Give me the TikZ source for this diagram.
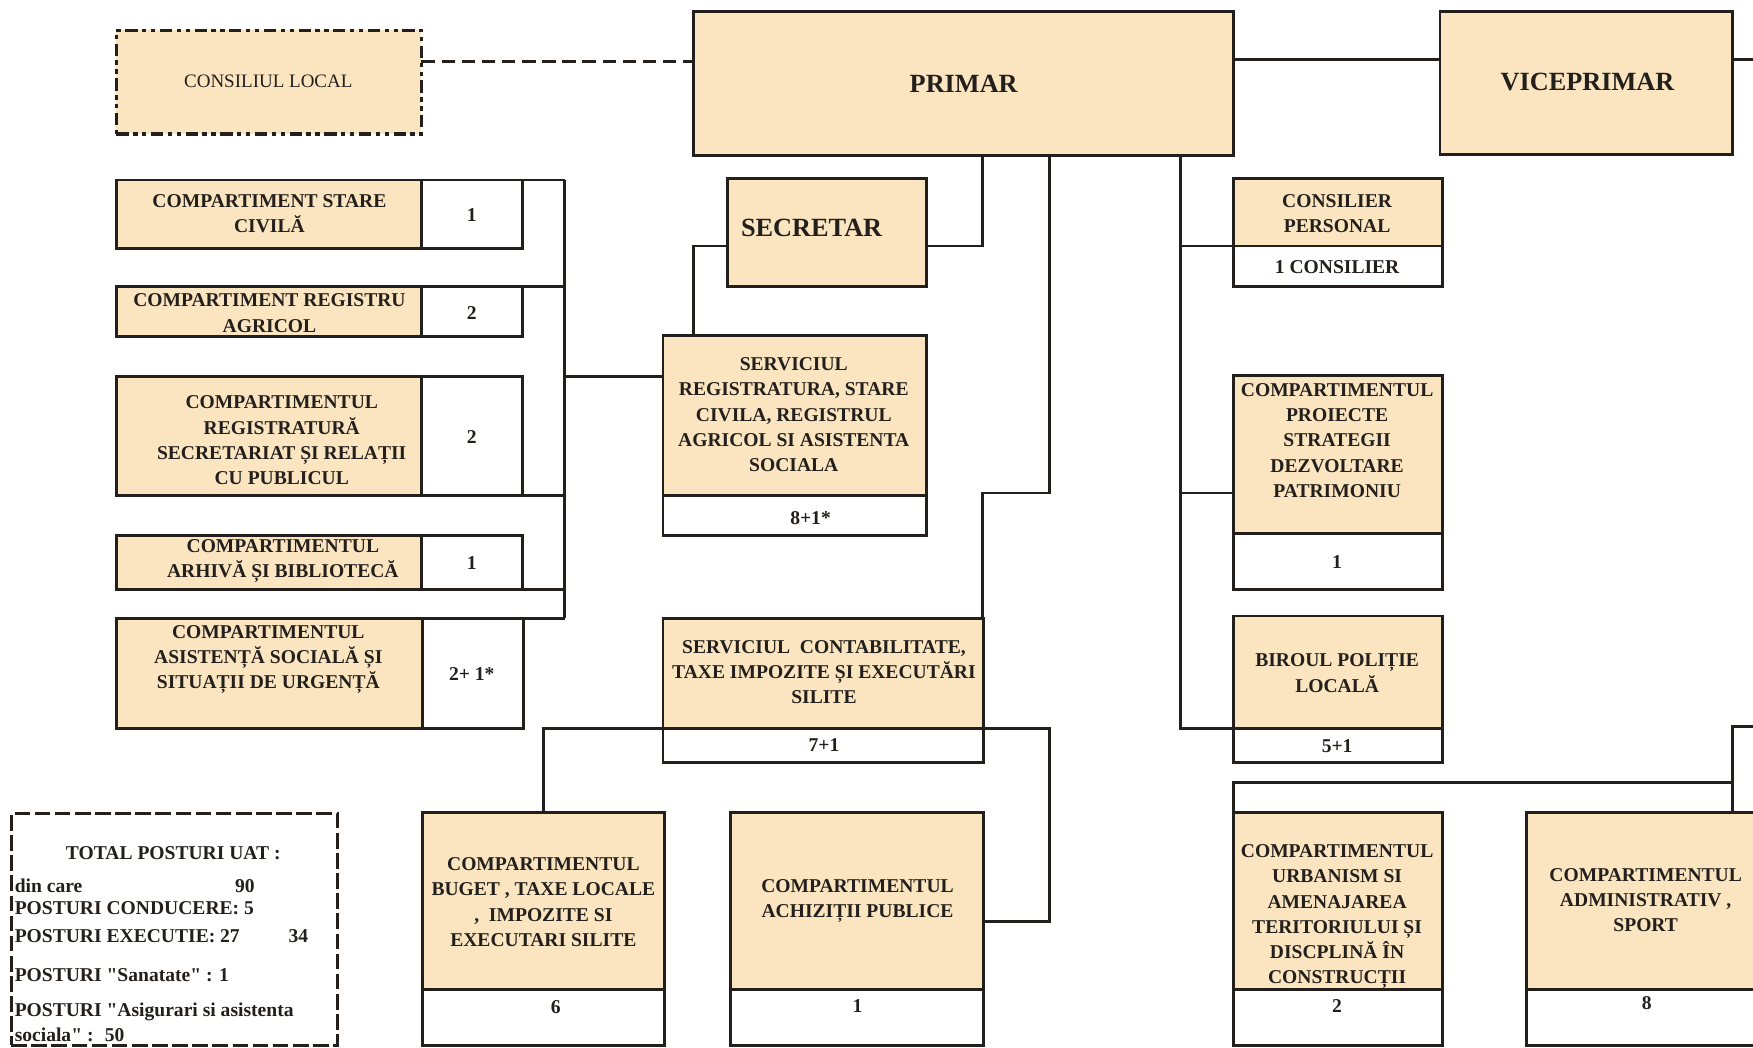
\documentclass[tikz,border=0pt]{standalone}
\usepackage{fontspec}
\setmainfont{Liberation Serif}[Ligatures=TeXOff]
\definecolor{peach}{RGB}{250,229,192}
\definecolor{ink}{RGB}{35,31,28}
\newcommand\mkbox[6]{\node[#6, minimum width={#4-#2}, minimum height={#5-#3}] (#1) at (#2,#3) {};}
\begin{document}
\begin{tikzpicture}[x=1pt,y=-1pt,
  box/.style={draw=ink, line width=2.6pt, fill=peach, anchor=north west, inner sep=0pt, outer sep=0pt},
  numbox/.style={box, fill=white},
  clbox/.style={box, line width=3pt, dash pattern=on 11pt off 4pt on 4pt off 4pt on 4pt off 4pt},
  totbox/.style={box, fill=white, line width=2.8pt, dash pattern=on 14pt off 4pt},
  txt/.style={font=\bfseries\fontsize{17.5}{22.6}\selectfont, align=center, inner sep=0pt, text=ink},
  ltxt/.style={font=\bfseries\fontsize{17.5}{22.6}\selectfont, anchor=base west, inner sep=0pt, text=ink},
  big/.style={font=\bfseries\fontsize{23.5}{28}\selectfont, inner sep=0pt, text=ink},
  conn/.style={draw=ink, line width=2.6pt},
  dconn/.style={conn, dash pattern=on 12pt off 6pt}]
\useasboundingbox (0,0) rectangle (1568,937);
\fill[white] (0,0) rectangle (1568,937);
\clip (0,0) rectangle (1568,937);

% ---------- boxes ----------
\mkbox{consiliul}{104}{27}{377}{120}{clbox}
\mkbox{primar}{620}{10}{1103}{139}{box}
\mkbox{vice}{1288}{10}{1550}{138}{box}
\mkbox{secretar}{651}{160}{829}{256}{box}

\mkbox{c1}{104}{161}{377}{222}{box}
\mkbox{c1n}{377}{161}{467}{222}{numbox}
\mkbox{c2}{104}{256}{377}{301}{box}
\mkbox{c2n}{377}{256}{467}{301}{numbox}
\mkbox{c3}{104}{337}{377}{443}{box}
\mkbox{c3n}{377}{337}{467}{443}{numbox}
\mkbox{c4}{104}{479}{377}{527}{box}
\mkbox{c4n}{377}{479}{467}{527}{numbox}
\mkbox{c5}{104}{553}{378}{652}{box}
\mkbox{c5n}{378}{553}{468}{652}{numbox}

\mkbox{sr}{593}{300}{829}{443}{box}
\mkbox{srn}{593}{443}{829}{479}{numbox}
\mkbox{sc}{593}{553}{880}{652}{box}
\mkbox{scn}{593}{652}{880}{682}{numbox}
\mkbox{bg}{378}{727}{594}{885}{box}
\mkbox{bgn}{378}{885}{594}{935}{numbox}
\mkbox{ac}{653}{727}{880}{885}{box}
\mkbox{acn}{653}{885}{880}{935}{numbox}

\mkbox{cp}{1103}{160}{1290}{220}{box}
\mkbox{cpn}{1103}{220}{1290}{256}{numbox}
\mkbox{pr}{1103}{336}{1290}{477}{box}
\mkbox{prn}{1103}{477}{1290}{527}{numbox}
\mkbox{bp}{1103}{551}{1290}{652}{box}
\mkbox{bpn}{1103}{652}{1290}{682}{numbox}
\mkbox{ur}{1103}{727}{1290}{885}{box}
\mkbox{urn}{1103}{885}{1290}{935}{numbox}
\mkbox{ad}{1365}{727}{1580}{885}{box}
\mkbox{adn}{1365}{885}{1580}{935}{numbox}

\mkbox{total}{10}{728}{302}{935}{totbox}

% ---------- texts ----------
\node[inner sep=0pt, text=ink, font=\fontsize{17}{20}\selectfont] (consiliul-t) at (240,73) {CONSILIUL LOCAL};
\node[big] (primar-t) at (862,75) {PRIMAR};
\node[big] (vice-t) at (1420,73) {VICEPRIMAR};
\node[big] (secretar-t) at (726,204) {SECRETAR};

\node[txt] (c1-t) at (241,191) {COMPARTIMENT STARE\\CIVILĂ};
\node[txt] (c1n-t) at (422,192) {1};
\node[txt] (c2-t) at (241,280) {COMPARTIMENT REGISTRU\\AGRICOL};
\node[txt] (c2n-t) at (422,280) {2};
\node[txt] (c3-t) at (252,394) {COMPARTIMENTUL\\REGISTRATURĂ\\SECRETARIAT ȘI RELAȚII\\CU PUBLICUL};
\node[txt] (c3n-t) at (422,391) {2};
\node[txt] (c4-t) at (253,502) {COMPARTIMENTUL\\ARHIVĂ ȘI BIBLIOTECĂ};
\node[txt] (c4n-t) at (422,504) {1};
\node[txt] (c5-t) at (240,590) {COMPARTIMENTUL\\ASISTENȚĂ SOCIALĂ ȘI\\SITUAȚII DE URGENȚĂ};
\node[txt] (c5n-t) at (422,603) {2+ 1*};

\node[txt] (sr-t) at (710,371) {SERVICIUL\\REGISTRATURA, STARE\\CIVILA, REGISTRUL\\AGRICOL SI ASISTENTA\\SOCIALA};
\node[txt] (srn-t) at (725,463) {8+1*};
\node[txt] (sc-t) at (737,601) {SERVICIUL\ \ CONTABILITATE,\\TAXE IMPOZITE ȘI EXECUTĂRI\\SILITE};
\node[txt] (scn-t) at (737,666) {7+1};
\node[txt] (bg-t) at (486,807) {COMPARTIMENTUL\\BUGET , TAXE LOCALE\\, \ IMPOZITE SI\\EXECUTARI SILITE};
\node[txt] (bgn-t) at (497,901) {6};
\node[txt] (ac-t) at (767,806) {COMPARTIMENTUL\\ACHIZIȚII PUBLICE};
\node[txt] (acn-t) at (767,900) {1};

\node[txt] (cp-t) at (1196,191) {CONSILIER\\PERSONAL};
\node[txt] (cpn-t) at (1196,239) {1 CONSILIER};
\node[txt] (pr-t) at (1196,394) {COMPARTIMENTUL\\PROIECTE\\STRATEGII\\DEZVOLTARE\\PATRIMONIU};
\node[txt] (prn-t) at (1196,503) {1};
\node[txt] (bp-t) at (1196,602) {BIROUL POLIȚIE\\LOCALĂ};
\node[txt] (bpn-t) at (1196,667) {5+1};
\node[txt] (ur-t) at (1196,820) {COMPARTIMENTUL\\URBANISM SI\\AMENAJAREA\\TERITORIULUI ȘI\\DISCPLINĂ ÎN\\CONSTRUCȚII};
\node[txt] (urn-t) at (1196,900) {2};
\node[txt] (ad-t) at (1472,805) {COMPARTIMENTUL\\ADMINISTRATIV ,\\SPORT};
\node[txt] (adn-t) at (1473,897) {8};

\node[txt] (tot1) at (155,763) {TOTAL POSTURI UAT :};
\node[ltxt] (tot2) at (13,798) {din care};
\node[ltxt] (tot2b) at (210,798) {90};
\node[ltxt] (tot3) at (13,818) {POSTURI CONDUCERE: 5};
\node[ltxt] (tot4) at (13,843) {POSTURI EXECUTIE: 27};
\node[ltxt] (tot4b) at (258,843) {34};
\node[ltxt] (tot5) at (13,878) {POSTURI "Sanatate" : 1};
\node[ltxt] (tot6) at (13,909) {POSTURI "Asigurari si asistenta};
\node[ltxt] (tot7) at (13,932) {sociala" : \ 50};

% ---------- junction coordinates ----------
\coordinate (ya) at (0,55);
\coordinate (yb) at (0,53);
\coordinate (edge1) at (1580,53);
\coordinate (j1) at (879,220);
\coordinate (j2) at (620,220);
\coordinate (j3) at (505,161);
\coordinate (j4) at (505,553);
\coordinate (j5) at (505,337);
\coordinate (j6) at (939,441);
\coordinate (j7) at (879,441);
\coordinate (j8) at (486,652);
\coordinate (j9) at (939,652);
\coordinate (j10) at (939,824);
\coordinate (j11) at (1056,220);
\coordinate (j12) at (1056,441);
\coordinate (j13) at (1056,652);
\coordinate (j14) at (1550,650);
\coordinate (edge2) at (1580,650);
\coordinate (j15) at (1103,700);
\coordinate (j16) at (1550,700);

% ---------- connectors ----------
\draw[dconn] (consiliul.east |- ya) -- (primar.west |- ya);
\draw[conn] (primar.east |- yb) -- (vice.west |- yb);
\draw[conn] (vice.east |- yb) -- (edge1);
\draw[conn] (primar.south -| j1) -- (j1) -- (secretar.east |- j1);
\draw[conn] (secretar.west |- j2) -- (j2) -- (sr.north -| j2);
\draw[conn] (j3) -- (j4);
\draw[conn] (c1n.north east) -- (c1n.north east -| j3);
\draw[conn] (c2n.north east) -- (c2n.north east -| j3);
\draw[conn] (c3n.south east) -- (c3n.south east -| j3);
\draw[conn] (c4n.south east) -- (c4n.south east -| j3);
\draw[conn] (c5n.north east) -- (c5n.north east -| j3);
\draw[conn] (j5) -- (sr.west |- j5);
\draw[conn] (primar.south -| j6) -- (j6) -- (j7) -- (sc.north -| j7);
\draw[conn] (bg.north -| j8) -- (j8) -- (scn.north west);
\draw[conn] (scn.north east) -- (j9) -- (j10) -- (ac.east |- j10);
\draw[conn] (primar.south -| j11) -- (j13) -- (bpn.north west);
\draw[conn] (j11) -- (cp.south west);
\draw[conn] (j12) -- (pr.west |- j12);
\draw[conn] (edge2) -- (j14) -- (ad.north -| j14);
\draw[conn] (ur.north west) -- (j15) -- (j16);
\end{tikzpicture}
\end{document}
